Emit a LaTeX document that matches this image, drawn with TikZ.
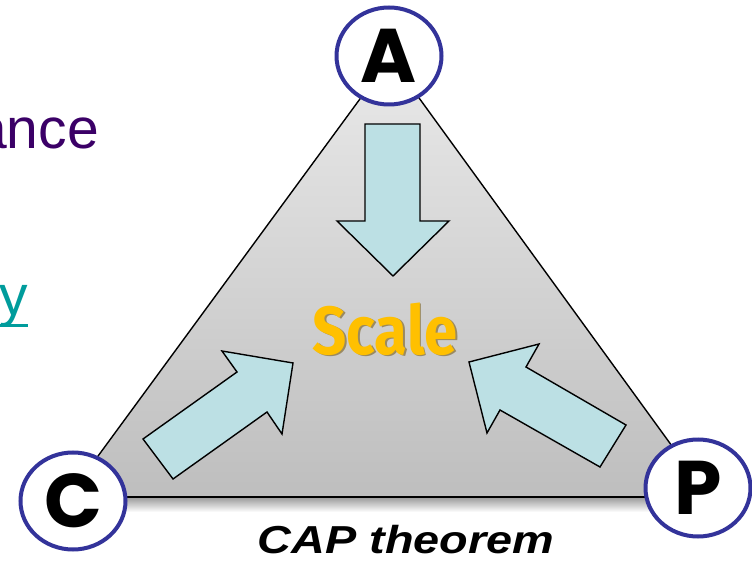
\documentclass[tikz,border=0pt]{standalone}
\usepackage{fontspec}
\usepackage{graphicx}
\setmainfont{Liberation Sans}
\newfontfamily\geofont{Poppins}
\newfontfamily\scalefont{Fira Sans}
\usetikzlibrary{shapes.geometric}
\definecolor{triTop}{HTML}{E9E9E9}
\definecolor{triBot}{HTML}{BEBEBE}
\definecolor{arrowFill}{HTML}{BCE0E4}
\definecolor{ringBlue}{HTML}{33339A}
\definecolor{scaleGold}{HTML}{FFC000}
\definecolor{scaleShadow}{HTML}{9A8A60}
\definecolor{leftPurple}{HTML}{3B0067}
\definecolor{leftTeal}{HTML}{009C9C}
\tikzset{
  fatarrow/.style={draw=black, line width=1.4pt, fill=arrowFill, line join=miter},
  ring/.style={ellipse, draw=ringBlue, line width=4pt, fill=white,
    minimum width=105pt, minimum height=97pt, inner sep=0pt,
    font=\geofont\bfseries\fontsize{76}{76}\selectfont},
  edge/.style={draw=black, line width=1.4pt}
}
\begin{document}
\begin{tikzpicture}[x=1pt,y=-1pt]
\useasboundingbox (0,0) rectangle (752,561);
\clip (0,0) rectangle (752,561);
\fill[white] (0,0) rectangle (752,561);
% triangle vertices
\coordinate (top) at (390,58);
\coordinate (bl) at (68,497);
\coordinate (br) at (709,497);
% soft shadow under the base
\shade[top color=black!40, bottom color=white] (bl) ++(20,0) rectangle ([xshift=-20pt, yshift=-15pt]br);
% triangle
\path[top color=triTop, bottom color=triBot] (top) -- (br) -- (bl) -- cycle;
\draw[edge] (top) -- (br);
\draw[edge] (br) -- (bl);
\draw[edge] (bl) -- (top);
% arrows
\draw[fatarrow] (365,124) -- (420,124) -- (420,221) -- (449,221) -- (393,276) -- (337,221) -- (365,221) -- cycle;
\draw[fatarrow] (143,439) -- (237,372) -- (222,351) -- (293,363) -- (282,434) -- (267,412) -- (173,479) -- cycle;
\draw[fatarrow] (469,362) -- (539,344) -- (526,367) -- (626,425) -- (600,467) -- (500,410) -- (487,433) -- cycle;
% Scale
\node[inner sep=0pt, text=scaleShadow] (scaleshadow) at (386.5,330.5) {\scalebox{0.88}[1]{\scalefont\bfseries\fontsize{68}{68}\selectfont Scale}};
\node[inner sep=0pt, text=scaleGold] (scale) at (385,329) {\scalebox{0.88}[1]{\scalefont\bfseries\fontsize{68}{68}\selectfont Scale}};
% corner rings
\node[ring] (A) at (389,56) {A};
\node[ring] (C) at (73,501) {C};
\node[ring] (P) at (698,488) {P};
% caption
\node[inner sep=0pt, anchor=base] (cap) at (406,553) {\scalebox{1.2}[1]{\bfseries\itshape\fontsize{39}{40}\selectfont CAP theorem}};
% left cut-off text
\node[inner sep=0pt, anchor=base east, text=leftPurple] (ance) at (99,149) {\fontsize{57}{60}\selectfont ance};
\node[inner sep=0pt, anchor=base east, text=leftTeal] (ytext) at (28,315) {\fontsize{57}{60}\selectfont y};
\draw[leftTeal, line width=3.8pt] (0,325.5) -- (ytext.east |- 0,325.5);
\end{tikzpicture}
\end{document}
